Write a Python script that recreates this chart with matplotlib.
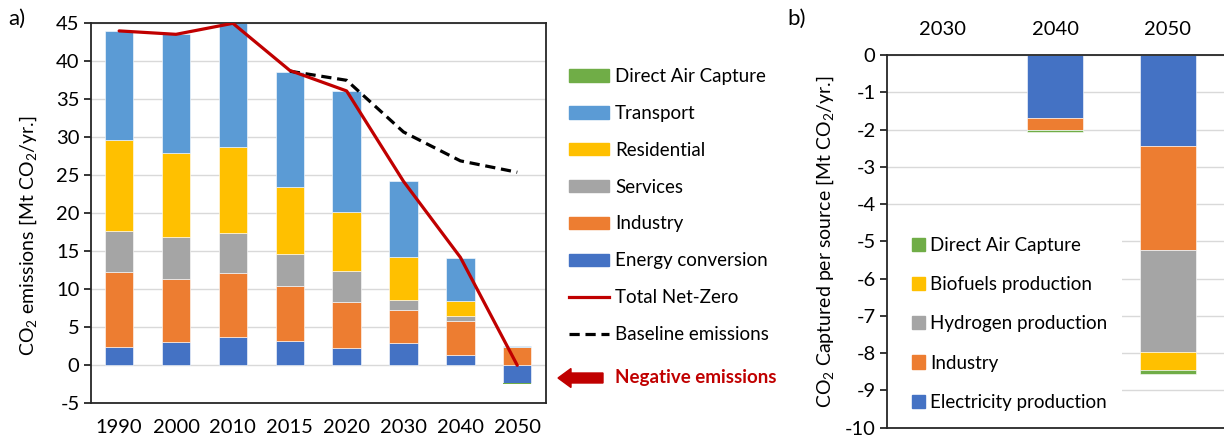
import matplotlib
matplotlib.use("Agg")
import matplotlib.pyplot as plt
import numpy as np
from matplotlib.patches import Patch, FancyArrow, Rectangle
from matplotlib.lines import Line2D

plt.rcParams['font.family'] = ['Lato', 'DejaVu Sans']
plt.rcParams['mathtext.fontset'] = 'custom'
plt.rcParams['mathtext.rm'] = 'Lato'
plt.rcParams['mathtext.default'] = 'regular'
plt.rcParams['axes.unicode_minus'] = False

# ---------------- data: panel a ----------------
years = ['1990', '2000', '2010', '2015', '2020', '2030', '2040', '2050']
energy_conversion = [2.45, 3.1, 3.75, 3.25, 2.3, 2.9, 1.35, -2.3]
industry = [9.85, 8.3, 8.45, 7.2, 6.05, 4.35, 4.5, 2.4]
services = [5.35, 5.45, 5.25, 4.2, 4.1, 1.4, 0.65, 0.0]
residential = [12.0, 11.05, 11.3, 8.75, 7.7, 5.55, 2.0, 0.0]
transport = [14.4, 15.65, 16.25, 15.2, 15.9, 10.0, 5.65, 0.1]
direct_air_capture = [0.0, 0.0, 0.0, 0.0, 0.0, 0.0, 0.0, -0.1]
total_net_zero = [44.0, 43.55, 45.0, 38.8, 36.1, 24.2, 14.2, 0.0]
baseline_years = ['2015', '2020', '2030', '2040', '2050']
baseline = [38.7, 37.5, 30.7, 26.9, 25.4]

# ---------------- data: panel b ----------------
years_b = ['2030', '2040', '2050']
electricity_b = [0.0, -1.68, -2.45]
industry_b = [0.0, -0.32, -2.78]
hydrogen_b = [0.0, 0.0, -2.73]
biofuels_b = [0.0, 0.0, -0.49]
dac_b = [0.0, -0.06, -0.11]

C_BLUE = '#4472C4'
C_ORANGE = '#ED7D31'
C_GRAY = '#A5A5A5'
C_YELLOW = '#FFC000'
C_LBLUE = '#5B9BD5'
C_GREEN = '#70AD47'
C_RED = '#C00000'
GRID = '#D9D9D9'
SPINE = '#262626'
TICK_FS = 14.5
LEG_FS = 13.5
LAB_FS = 14

W, H = 1224, 444
fig = plt.figure(figsize=(W / 100, H / 100), dpi=100)

# ---------------- panel a ----------------
ax = fig.add_axes([90.7 / W, 1 - 403.3 / H, (545.7 - 90.7) / W, (403.3 - 23.3) / H])
x = np.arange(len(years))
bw = 0.5
pos_series = [(energy_conversion, C_BLUE), (industry, C_ORANGE), (services, C_GRAY),
              (residential, C_YELLOW), (transport, C_LBLUE)]
pos_bottom = np.zeros(len(years))
neg_bottom = np.zeros(len(years))
for vals, col in pos_series:
    v = np.array(vals, dtype=float)
    b = np.where(v >= 0, pos_bottom, neg_bottom)
    ax.bar(x, v, bw, bottom=b, color=col, edgecolor='white', linewidth=0.4, zorder=2)
    pos_bottom = pos_bottom + np.where(v >= 0, v, 0)
    neg_bottom = neg_bottom + np.where(v < 0, v, 0)
v = np.array(direct_air_capture)
ax.bar(x, v, bw, bottom=neg_bottom, color=C_GREEN, linewidth=0, zorder=2)

ax.plot(x, total_net_zero, color=C_RED, lw=2.3, zorder=4, solid_capstyle='round')
bx = [years.index(y) for y in baseline_years]
ax.plot(bx, baseline, color='black', lw=2.3, ls=(0, (3.2, 1.8)), zorder=3)

ax.set_xlim(-0.5, len(years) - 0.5)
ax.set_ylim(-5, 45)
ax.set_yticks(np.arange(-5, 46, 5))
ax.set_xticks(x)
ax.set_xticklabels(years)
ax.yaxis.grid(True, color=GRID, lw=1.0, zorder=0)
ax.set_axisbelow(True)
for s in ax.spines.values():
    s.set_color(SPINE)
    s.set_linewidth(1.3)
ax.tick_params(axis='y', length=5, width=1.3, color=SPINE, pad=3, labelsize=TICK_FS)
ax.tick_params(axis='x', length=0, pad=11, labelsize=TICK_FS)
ax.set_ylabel('CO$_2$ emissions [Mt CO$_2$/yr.]', fontsize=LAB_FS)
ax.yaxis.set_label_coords(-0.113, 0.44)

handles = [Patch(color=C_GREEN), Patch(color=C_LBLUE), Patch(color=C_YELLOW),
           Patch(color=C_GRAY), Patch(color=C_ORANGE), Patch(color=C_BLUE),
           Line2D([], [], color=C_RED, lw=2.3),
           Line2D([], [], color='black', lw=2.3, ls=(0, (3.2, 1.8)))]
labels = ['Direct Air Capture', 'Transport', 'Residential', 'Services', 'Industry',
          'Energy conversion', 'Total Net-Zero', 'Baseline emissions']
fig.legend(handles, labels, loc='upper left', bbox_to_anchor=(569 / W, 1 - 68 / H),
           bbox_transform=fig.transFigure, borderpad=0, borderaxespad=0,
           handlelength=2.15, handleheight=0.65, handletextpad=0.3, labelspacing=1.06,
           frameon=False, fontsize=LEG_FS)

fig.add_artist(FancyArrow(6.03, (H - 378) / 100, -0.45, 0, width=0.10, head_width=0.19,
                          head_length=0.13, length_includes_head=True, color=C_RED,
                          transform=fig.dpi_scale_trans))
fig.text(615 / W, 1 - 378 / H, 'Negative emissions', color=C_RED, fontsize=LEG_FS,
         fontweight='bold', va='center', ha='left')

fig.text(8 / W, 1 - 19 / H, 'a)', fontsize=16, va='center', ha='left')
fig.text(787 / W, 1 - 19 / H, 'b)', fontsize=16, va='center', ha='left')

# ---------------- panel b ----------------
ax2 = fig.add_axes([886.7 / W, 1 - 427.7 / H, (W - 886.7) / W, (427.7 - 55) / H])
xb = np.arange(len(years_b))
bottom = np.zeros(len(years_b))
for vals, col in [(electricity_b, C_BLUE), (industry_b, C_ORANGE), (hydrogen_b, C_GRAY),
                  (biofuels_b, C_YELLOW), (dac_b, C_GREEN)]:
    v = np.array(vals)
    ax2.bar(xb, v, bw, bottom=bottom, color=col, edgecolor='white', linewidth=0.4, zorder=2)
    bottom = bottom + v
ax2.set_xlim(-0.5, len(years_b) - 0.5)
ax2.set_ylim(-10, 0)
ax2.set_yticks(np.arange(-10, 1, 1))
ax2.set_xticks(xb)
ax2.set_xticklabels(years_b)
ax2.xaxis.tick_top()
ax2.yaxis.grid(True, color=GRID, lw=1.0, zorder=0)
ax2.set_axisbelow(True)
ax2.spines['right'].set_visible(False)
for s in ['left', 'top', 'bottom']:
    ax2.spines[s].set_color(SPINE)
    ax2.spines[s].set_linewidth(1.3)
ax2.tick_params(axis='y', length=5, width=1.3, color=SPINE, pad=3, labelsize=TICK_FS)
ax2.tick_params(axis='x', length=0, pad=12, labelsize=TICK_FS)
ax2.set_ylabel('CO$_2$ Captured per source [Mt CO$_2$/yr.]', fontsize=LAB_FS)
ax2.yaxis.set_label_coords(-0.151, 0.5)

# white area behind the legend hides the gridlines there
ax2.add_patch(Rectangle((0, 0), (1122 - 886.7) / (W - 886.7), 0.54, transform=ax2.transAxes,
                        facecolor='white', edgecolor='none', zorder=1))

handles_b = [Patch(color=C_GREEN), Patch(color=C_YELLOW), Patch(color=C_GRAY),
             Patch(color=C_ORANGE), Patch(color=C_BLUE)]
labels_b = ['Direct Air Capture', 'Biofuels production', 'Hydrogen production',
            'Industry', 'Electricity production']
ax2.legend(handles_b, labels_b, loc='lower left',
           bbox_to_anchor=(25 / (W - 886.7), 17 / (427.7 - 55)),
           borderaxespad=0, borderpad=0, handlelength=0.7, handleheight=0.7,
           handletextpad=0.3, labelspacing=1.18, fontsize=LEG_FS, frameon=False)

fig.savefig('out.png', dpi=100)
